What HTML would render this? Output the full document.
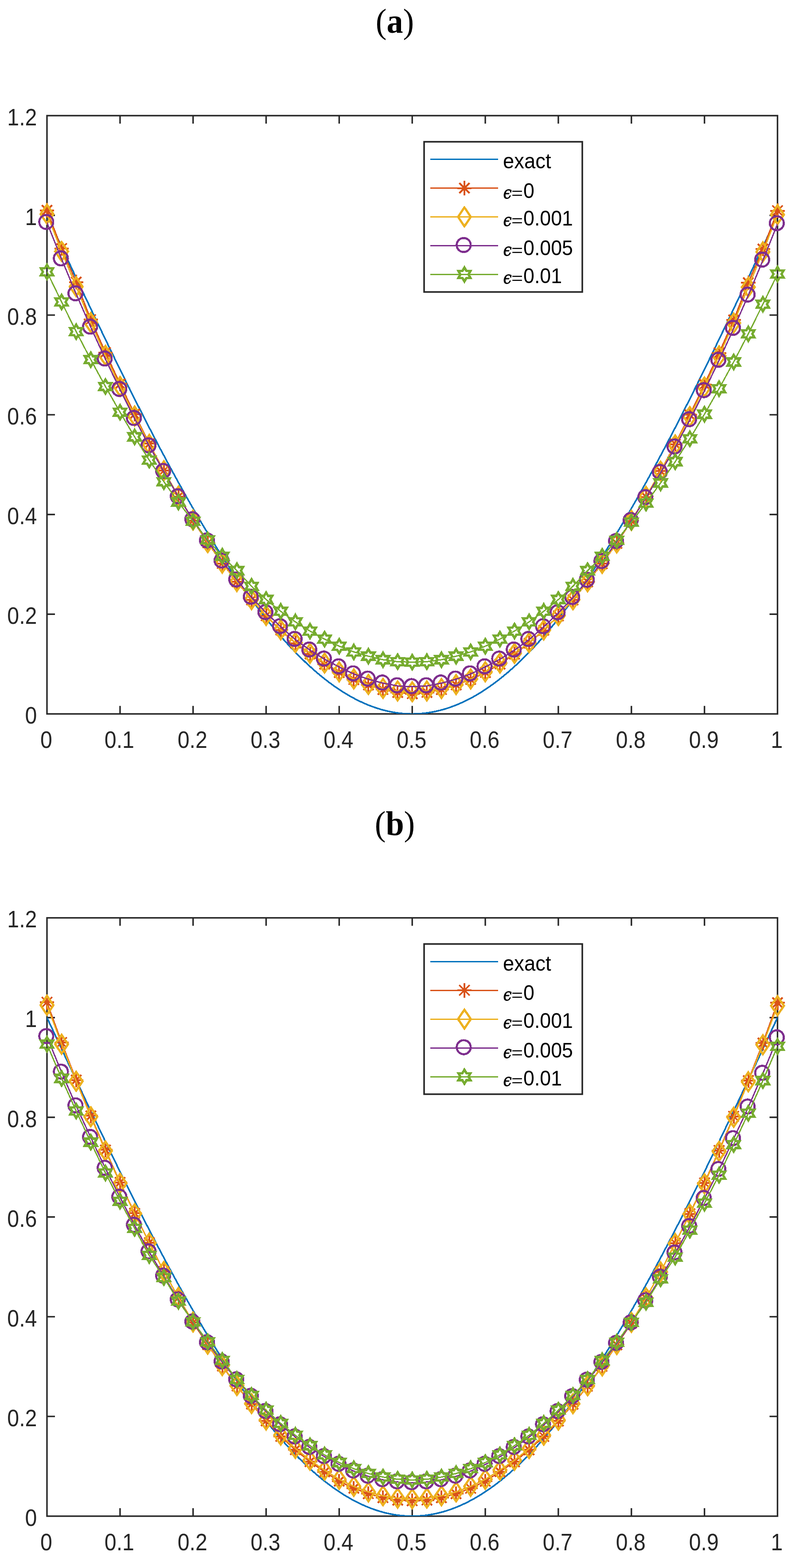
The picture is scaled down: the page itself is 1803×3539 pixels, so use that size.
<!DOCTYPE html>
<html><head><meta charset="utf-8"><title>plot</title>
<style>html,body{margin:0;padding:0;background:#fff;}svg{display:block;}</style>
</head><body>
<svg width="1803" height="3539" viewBox="0 0 1803 3539">
<rect width="1803" height="3539" fill="#fff"/>
<defs><g id="mA" fill="none" stroke="#D95319" stroke-width="4"><path d="M0 -16.4 V16.4 M-16.4 0 H16.4 M-11.6 -11.6 L11.6 11.6 M-11.6 11.6 L11.6 -11.6"/></g>
<g id="mD"><path d="M0 -21.2 L14.5 0 L0 21.2 L-14.5 0Z" fill="none" stroke="#EDB120" stroke-width="5" stroke-linejoin="miter" stroke-miterlimit="10"/></g>
<g id="mC"><circle cx="-1.6" cy="-1.5" r="15.8" fill="none" stroke="#7E2F8E" stroke-width="4.7"/></g>
<g id="mH"><path d="M0 -15.8 L4.6 -7.9 L13.7 -7.9 L9.1 0 L13.7 7.9 L4.6 7.9 L0 15.8 L-4.6 7.9 L-13.7 7.9 L-9.1 0 L-13.7 -7.9 L-4.6 -7.9Z" fill="none" stroke="#77AC30" stroke-width="5.4" stroke-linejoin="miter" stroke-miterlimit="10"/></g></defs>
<clipPath id="clip261"><rect x="106" y="261" width="1648.5" height="1350.3"/></clipPath>
<rect x="106" y="261" width="1648.5" height="1350.3" fill="none" stroke="#262626" stroke-width="3.4"/>
<path d="M270.9 1611.3 V1593.3 M270.9 261 V279 M435.7 1611.3 V1593.3 M435.7 261 V279 M600.5 1611.3 V1593.3 M600.5 261 V279 M765.4 1611.3 V1593.3 M765.4 261 V279 M930.2 1611.3 V1593.3 M930.2 261 V279 M1095.1 1611.3 V1593.3 M1095.1 261 V279 M1259.9 1611.3 V1593.3 M1259.9 261 V279 M1424.8 1611.3 V1593.3 M1424.8 261 V279 M1589.7 1611.3 V1593.3 M1589.7 261 V279 M106 1386.2 H124 M1754.5 1386.2 H1736.5 M106 1161.2 H124 M1754.5 1161.2 H1736.5 M106 936.1 H124 M1754.5 936.1 H1736.5 M106 711.1 H124 M1754.5 711.1 H1736.5 M106 486 H124 M1754.5 486 H1736.5" stroke="#262626" stroke-width="3.4" fill="none"/>
<g shape-rendering="crispEdges">
<g clip-path="url(#clip261)" fill="none" stroke-width="3.6" stroke-linejoin="round">
<path d="M106 486 L110.1 494.9 L114.2 503.7 L118.4 512.6 L122.5 521.4 L126.6 530.2 L130.7 539.1 L134.8 547.9 L139 556.7 L143.1 565.5 L147.2 574.3 L151.3 583.1 L155.5 591.9 L159.6 600.7 L163.7 609.5 L167.8 618.3 L171.9 627.1 L176.1 635.8 L180.2 644.6 L184.3 653.3 L188.4 662.1 L192.5 670.8 L196.7 679.5 L200.8 688.2 L204.9 696.9 L209 705.6 L213.2 714.2 L217.3 722.9 L221.4 731.5 L225.5 740.1 L229.6 748.7 L233.8 757.3 L237.9 765.9 L242 774.4 L246.1 783 L250.2 791.5 L254.4 800 L258.5 808.5 L262.6 816.9 L266.7 825.4 L270.9 833.8 L275 842.2 L279.1 850.5 L283.2 858.9 L287.3 867.2 L291.5 875.5 L295.6 883.8 L299.7 892.1 L303.8 900.3 L307.9 908.5 L312.1 916.7 L316.2 924.8 L320.3 932.9 L324.4 941 L328.5 949.1 L332.7 957.1 L336.8 965.2 L340.9 973.1 L345 981.1 L349.2 989 L353.3 996.9 L357.4 1004.8 L361.5 1012.6 L365.6 1020.4 L369.8 1028.1 L373.9 1035.9 L378 1043.6 L382.1 1051.2 L386.2 1058.8 L390.4 1066.4 L394.5 1074 L398.6 1081.5 L402.7 1089 L406.9 1096.4 L411 1103.8 L415.1 1111.2 L419.2 1118.5 L423.3 1125.8 L427.5 1133.1 L431.6 1140.3 L435.7 1147.5 L439.8 1154.6 L443.9 1161.7 L448.1 1168.7 L452.2 1175.7 L456.3 1182.7 L460.4 1189.6 L464.5 1196.5 L468.7 1203.3 L472.8 1210.1 L476.9 1216.8 L481 1223.5 L485.2 1230.2 L489.3 1236.8 L493.4 1243.4 L497.5 1249.9 L501.6 1256.3 L505.8 1262.8 L509.9 1269.1 L514 1275.4 L518.1 1281.7 L522.2 1287.9 L526.4 1294.1 L530.5 1300.2 L534.6 1306.3 L538.7 1312.3 L542.9 1318.3 L547 1324.2 L551.1 1330.1 L555.2 1335.9 L559.3 1341.7 L563.5 1347.4 L567.6 1353.1 L571.7 1358.7 L575.8 1364.2 L579.9 1369.7 L584.1 1375.2 L588.2 1380.6 L592.3 1385.9 L596.4 1391.2 L600.5 1396.4 L604.7 1401.6 L608.8 1406.7 L612.9 1411.7 L617 1416.7 L621.2 1421.7 L625.3 1426.5 L629.4 1431.4 L633.5 1436.1 L637.6 1440.8 L641.8 1445.5 L645.9 1450.1 L650 1454.6 L654.1 1459.1 L658.2 1463.5 L662.4 1467.8 L666.5 1472.1 L670.6 1476.3 L674.7 1480.5 L678.9 1484.6 L683 1488.7 L687.1 1492.6 L691.2 1496.6 L695.3 1500.4 L699.5 1504.2 L703.6 1507.9 L707.7 1511.6 L711.8 1515.2 L715.9 1518.8 L720.1 1522.2 L724.2 1525.6 L728.3 1529 L732.4 1532.3 L736.6 1535.5 L740.7 1538.7 L744.8 1541.7 L748.9 1544.8 L753 1547.7 L757.2 1550.6 L761.3 1553.5 L765.4 1556.2 L769.5 1558.9 L773.6 1561.6 L777.8 1564.1 L781.9 1566.6 L786 1569.1 L790.1 1571.4 L794.2 1573.7 L798.4 1575.9 L802.5 1578.1 L806.6 1580.2 L810.7 1582.2 L814.9 1584.2 L819 1586.1 L823.1 1587.9 L827.2 1589.7 L831.3 1591.4 L835.5 1593 L839.6 1594.5 L843.7 1596 L847.8 1597.4 L851.9 1598.8 L856.1 1600.1 L860.2 1601.3 L864.3 1602.4 L868.4 1603.5 L872.6 1604.5 L876.7 1605.4 L880.8 1606.3 L884.9 1607.1 L889 1607.8 L893.2 1608.5 L897.3 1609.1 L901.4 1609.6 L905.5 1610.1 L909.6 1610.4 L913.8 1610.7 L917.9 1611 L922 1611.2 L926.1 1611.3 L930.2 1611.3 L934.4 1611.3 L938.5 1611.2 L942.6 1611 L946.7 1610.7 L950.9 1610.4 L955 1610.1 L959.1 1609.6 L963.2 1609.1 L967.3 1608.5 L971.5 1607.8 L975.6 1607.1 L979.7 1606.3 L983.8 1605.4 L987.9 1604.5 L992.1 1603.5 L996.2 1602.4 L1000.3 1601.3 L1004.4 1600.1 L1008.6 1598.8 L1012.7 1597.4 L1016.8 1596 L1020.9 1594.5 L1025 1593 L1029.2 1591.4 L1033.3 1589.7 L1037.4 1587.9 L1041.5 1586.1 L1045.6 1584.2 L1049.8 1582.2 L1053.9 1580.2 L1058 1578.1 L1062.1 1575.9 L1066.3 1573.7 L1070.4 1571.4 L1074.5 1569.1 L1078.6 1566.6 L1082.7 1564.1 L1086.9 1561.6 L1091 1558.9 L1095.1 1556.2 L1099.2 1553.5 L1103.3 1550.6 L1107.5 1547.7 L1111.6 1544.8 L1115.7 1541.7 L1119.8 1538.7 L1123.9 1535.5 L1128.1 1532.3 L1132.2 1529 L1136.3 1525.6 L1140.4 1522.2 L1144.6 1518.8 L1148.7 1515.2 L1152.8 1511.6 L1156.9 1507.9 L1161 1504.2 L1165.2 1500.4 L1169.3 1496.6 L1173.4 1492.6 L1177.5 1488.7 L1181.6 1484.6 L1185.8 1480.5 L1189.9 1476.3 L1194 1472.1 L1198.1 1467.8 L1202.3 1463.5 L1206.4 1459.1 L1210.5 1454.6 L1214.6 1450.1 L1218.7 1445.5 L1222.9 1440.8 L1227 1436.1 L1231.1 1431.4 L1235.2 1426.5 L1239.3 1421.7 L1243.5 1416.7 L1247.6 1411.7 L1251.7 1406.7 L1255.8 1401.6 L1260 1396.4 L1264.1 1391.2 L1268.2 1385.9 L1272.3 1380.6 L1276.4 1375.2 L1280.6 1369.7 L1284.7 1364.2 L1288.8 1358.7 L1292.9 1353.1 L1297 1347.4 L1301.2 1341.7 L1305.3 1335.9 L1309.4 1330.1 L1313.5 1324.2 L1317.6 1318.3 L1321.8 1312.3 L1325.9 1306.3 L1330 1300.2 L1334.1 1294.1 L1338.3 1287.9 L1342.4 1281.7 L1346.5 1275.4 L1350.6 1269.1 L1354.7 1262.8 L1358.9 1256.3 L1363 1249.9 L1367.1 1243.4 L1371.2 1236.8 L1375.3 1230.2 L1379.5 1223.5 L1383.6 1216.8 L1387.7 1210.1 L1391.8 1203.3 L1396 1196.5 L1400.1 1189.6 L1404.2 1182.7 L1408.3 1175.7 L1412.4 1168.7 L1416.6 1161.7 L1420.7 1154.6 L1424.8 1147.5 L1428.9 1140.3 L1433 1133.1 L1437.2 1125.8 L1441.3 1118.5 L1445.4 1111.2 L1449.5 1103.8 L1453.6 1096.4 L1457.8 1089 L1461.9 1081.5 L1466 1074 L1470.1 1066.4 L1474.3 1058.8 L1478.4 1051.2 L1482.5 1043.6 L1486.6 1035.9 L1490.7 1028.1 L1494.9 1020.4 L1499 1012.6 L1503.1 1004.8 L1507.2 996.9 L1511.3 989 L1515.5 981.1 L1519.6 973.1 L1523.7 965.2 L1527.8 957.1 L1532 949.1 L1536.1 941 L1540.2 932.9 L1544.3 924.8 L1548.4 916.7 L1552.6 908.5 L1556.7 900.3 L1560.8 892.1 L1564.9 883.8 L1569 875.5 L1573.2 867.2 L1577.3 858.9 L1581.4 850.5 L1585.5 842.2 L1589.7 833.8 L1593.8 825.4 L1597.9 816.9 L1602 808.5 L1606.1 800 L1610.3 791.5 L1614.4 783 L1618.5 774.4 L1622.6 765.9 L1626.7 757.3 L1630.9 748.7 L1635 740.1 L1639.1 731.5 L1643.2 722.9 L1647.3 714.2 L1651.5 705.6 L1655.6 696.9 L1659.7 688.2 L1663.8 679.5 L1668 670.8 L1672.1 662.1 L1676.2 653.3 L1680.3 644.6 L1684.4 635.8 L1688.6 627.1 L1692.7 618.3 L1696.8 609.5 L1700.9 600.7 L1705 591.9 L1709.2 583.1 L1713.3 574.3 L1717.4 565.5 L1721.5 556.7 L1725.7 547.9 L1729.8 539.1 L1733.9 530.2 L1738 521.4 L1742.1 512.6 L1746.3 503.7 L1750.4 494.9 L1754.5 486.1" stroke="#0072BD"/>
</g>
<path clip-path="url(#clip261)" d="M106 474.5 L139 561 L171.9 636.8 L204.9 721.2 L237.9 795.5 L270.9 866.4 L303.8 935 L336.8 1001.4 L369.8 1062.2 L402.7 1120.7 L435.7 1174.7 L468.7 1225.3 L501.6 1271.5 L534.6 1313.1 L567.6 1353.6 L600.5 1389.6 L633.5 1422.3 L666.5 1451.5 L699.5 1476.3 L732.4 1498.8 L765.4 1517.9 L798.4 1533.7 L831.3 1546 L864.3 1556.2 L897.3 1562.9 L930.2 1565.7 L963.2 1562.9 L996.2 1556.2 L1029.2 1546 L1062.1 1533.7 L1095.1 1517.9 L1128.1 1498.8 L1161 1476.3 L1194 1451.6 L1227 1422.5 L1260 1389.9 L1292.9 1354 L1325.9 1313.6 L1358.9 1272.1 L1391.8 1226.1 L1424.8 1175.5 L1457.8 1121.6 L1490.7 1063.2 L1523.7 1002.5 L1556.7 936.1 L1589.7 867.5 L1622.6 796.6 L1655.6 722.4 L1688.6 638 L1721.5 562.1 L1754.5 475.6" fill="none" stroke-width="3.0" stroke="#D95319"/>
<use href="#mA" x="106" y="474.5"/>
<use href="#mA" x="139" y="561"/>
<use href="#mA" x="171.9" y="636.8"/>
<use href="#mA" x="204.9" y="721.2"/>
<use href="#mA" x="237.9" y="795.5"/>
<use href="#mA" x="270.9" y="866.4"/>
<use href="#mA" x="303.8" y="935"/>
<use href="#mA" x="336.8" y="1001.4"/>
<use href="#mA" x="369.8" y="1062.2"/>
<use href="#mA" x="402.7" y="1120.7"/>
<use href="#mA" x="435.7" y="1174.7"/>
<use href="#mA" x="468.7" y="1225.3"/>
<use href="#mA" x="501.6" y="1271.5"/>
<use href="#mA" x="534.6" y="1313.1"/>
<use href="#mA" x="567.6" y="1353.6"/>
<use href="#mA" x="600.5" y="1389.6"/>
<use href="#mA" x="633.5" y="1422.3"/>
<use href="#mA" x="666.5" y="1451.5"/>
<use href="#mA" x="699.5" y="1476.3"/>
<use href="#mA" x="732.4" y="1498.8"/>
<use href="#mA" x="765.4" y="1517.9"/>
<use href="#mA" x="798.4" y="1533.7"/>
<use href="#mA" x="831.3" y="1546"/>
<use href="#mA" x="864.3" y="1556.2"/>
<use href="#mA" x="897.3" y="1562.9"/>
<use href="#mA" x="930.2" y="1565.7"/>
<use href="#mA" x="963.2" y="1562.9"/>
<use href="#mA" x="996.2" y="1556.2"/>
<use href="#mA" x="1029.2" y="1546"/>
<use href="#mA" x="1062.1" y="1533.7"/>
<use href="#mA" x="1095.1" y="1517.9"/>
<use href="#mA" x="1128.1" y="1498.8"/>
<use href="#mA" x="1161" y="1476.3"/>
<use href="#mA" x="1194" y="1451.6"/>
<use href="#mA" x="1227" y="1422.5"/>
<use href="#mA" x="1260" y="1389.9"/>
<use href="#mA" x="1292.9" y="1354"/>
<use href="#mA" x="1325.9" y="1313.6"/>
<use href="#mA" x="1358.9" y="1272.1"/>
<use href="#mA" x="1391.8" y="1226.1"/>
<use href="#mA" x="1424.8" y="1175.5"/>
<use href="#mA" x="1457.8" y="1121.6"/>
<use href="#mA" x="1490.7" y="1063.2"/>
<use href="#mA" x="1523.7" y="1002.5"/>
<use href="#mA" x="1556.7" y="936.1"/>
<use href="#mA" x="1589.7" y="867.5"/>
<use href="#mA" x="1622.6" y="796.6"/>
<use href="#mA" x="1655.6" y="722.4"/>
<use href="#mA" x="1688.6" y="638"/>
<use href="#mA" x="1721.5" y="562.1"/>
<use href="#mA" x="1754.5" y="475.6"/>
<path clip-path="url(#clip261)" d="M106 483.3 L139 567.5 L171.9 647 L204.9 728 L237.9 802.2 L270.9 872.3 L303.8 939 L336.8 1003 L369.8 1062.5 L402.7 1119.7 L435.7 1173.8 L468.7 1224.6 L501.6 1271 L534.6 1312.5 L567.6 1353.3 L600.5 1389.1 L633.5 1421.6 L666.5 1450.3 L699.5 1474.6 L732.4 1496.5 L765.4 1516.2 L798.4 1532.5 L831.3 1544.9 L864.3 1553.9 L897.3 1559.5 L930.2 1561.3 L963.2 1559.5 L996.2 1553.9 L1029.2 1544.9 L1062.1 1532.5 L1095.1 1516.2 L1128.1 1496.5 L1161 1474.6 L1194 1450.4 L1227 1421.8 L1260 1389.4 L1292.9 1353.7 L1325.9 1313.1 L1358.9 1271.6 L1391.8 1225.3 L1424.8 1174.6 L1457.8 1120.6 L1490.7 1063.5 L1523.7 1004.1 L1556.7 940.1 L1589.7 873.5 L1622.6 803.4 L1655.6 729.1 L1688.6 648.1 L1721.5 568.6 L1754.5 484.5" fill="none" stroke-width="3.0" stroke="#EDB120"/>
<use href="#mD" x="106" y="483.3"/>
<use href="#mD" x="139" y="567.5"/>
<use href="#mD" x="171.9" y="647"/>
<use href="#mD" x="204.9" y="728"/>
<use href="#mD" x="237.9" y="802.2"/>
<use href="#mD" x="270.9" y="872.3"/>
<use href="#mD" x="303.8" y="939"/>
<use href="#mD" x="336.8" y="1003"/>
<use href="#mD" x="369.8" y="1062.5"/>
<use href="#mD" x="402.7" y="1119.7"/>
<use href="#mD" x="435.7" y="1173.8"/>
<use href="#mD" x="468.7" y="1224.6"/>
<use href="#mD" x="501.6" y="1271"/>
<use href="#mD" x="534.6" y="1312.5"/>
<use href="#mD" x="567.6" y="1353.3"/>
<use href="#mD" x="600.5" y="1389.1"/>
<use href="#mD" x="633.5" y="1421.6"/>
<use href="#mD" x="666.5" y="1450.3"/>
<use href="#mD" x="699.5" y="1474.6"/>
<use href="#mD" x="732.4" y="1496.5"/>
<use href="#mD" x="765.4" y="1516.2"/>
<use href="#mD" x="798.4" y="1532.5"/>
<use href="#mD" x="831.3" y="1544.9"/>
<use href="#mD" x="864.3" y="1553.9"/>
<use href="#mD" x="897.3" y="1559.5"/>
<use href="#mD" x="930.2" y="1561.3"/>
<use href="#mD" x="963.2" y="1559.5"/>
<use href="#mD" x="996.2" y="1553.9"/>
<use href="#mD" x="1029.2" y="1544.9"/>
<use href="#mD" x="1062.1" y="1532.5"/>
<use href="#mD" x="1095.1" y="1516.2"/>
<use href="#mD" x="1128.1" y="1496.5"/>
<use href="#mD" x="1161" y="1474.6"/>
<use href="#mD" x="1194" y="1450.4"/>
<use href="#mD" x="1227" y="1421.8"/>
<use href="#mD" x="1260" y="1389.4"/>
<use href="#mD" x="1292.9" y="1353.7"/>
<use href="#mD" x="1325.9" y="1313.1"/>
<use href="#mD" x="1358.9" y="1271.6"/>
<use href="#mD" x="1391.8" y="1225.3"/>
<use href="#mD" x="1424.8" y="1174.6"/>
<use href="#mD" x="1457.8" y="1120.6"/>
<use href="#mD" x="1490.7" y="1063.5"/>
<use href="#mD" x="1523.7" y="1004.1"/>
<use href="#mD" x="1556.7" y="940.1"/>
<use href="#mD" x="1589.7" y="873.5"/>
<use href="#mD" x="1622.6" y="803.4"/>
<use href="#mD" x="1655.6" y="729.1"/>
<use href="#mD" x="1688.6" y="648.1"/>
<use href="#mD" x="1721.5" y="568.6"/>
<use href="#mD" x="1754.5" y="484.5"/>
<path clip-path="url(#clip261)" d="M106 502.5 L139 584.7 L171.9 663.6 L204.9 738.7 L237.9 810.7 L270.9 879.3 L303.8 944.9 L336.8 1006.7 L369.8 1064.4 L402.7 1121.5 L435.7 1173.4 L468.7 1221.1 L501.6 1266.6 L534.6 1309.2 L567.6 1348.4 L600.5 1383 L633.5 1414.7 L666.5 1443.6 L699.5 1467.4 L732.4 1487.9 L765.4 1505.4 L798.4 1521.2 L831.3 1533.1 L864.3 1541.9 L897.3 1548.1 L930.2 1550 L963.2 1548.1 L996.2 1541.9 L1029.2 1533.1 L1062.1 1521.2 L1095.1 1505.4 L1128.1 1487.9 L1161 1467.4 L1194 1443.7 L1227 1414.8 L1260 1383.3 L1292.9 1349 L1325.9 1310 L1358.9 1267.8 L1391.8 1222.6 L1424.8 1175.2 L1457.8 1123.6 L1490.7 1066.8 L1523.7 1009.3 L1556.7 947.7 L1589.7 882.1 L1622.6 813.5 L1655.6 741.5 L1688.6 666.4 L1721.5 587.5 L1754.5 505.3" fill="none" stroke-width="3.0" stroke="#7E2F8E"/>
<use href="#mC" x="106" y="502.5"/>
<use href="#mC" x="139" y="584.7"/>
<use href="#mC" x="171.9" y="663.6"/>
<use href="#mC" x="204.9" y="738.7"/>
<use href="#mC" x="237.9" y="810.7"/>
<use href="#mC" x="270.9" y="879.3"/>
<use href="#mC" x="303.8" y="944.9"/>
<use href="#mC" x="336.8" y="1006.7"/>
<use href="#mC" x="369.8" y="1064.4"/>
<use href="#mC" x="402.7" y="1121.5"/>
<use href="#mC" x="435.7" y="1173.4"/>
<use href="#mC" x="468.7" y="1221.1"/>
<use href="#mC" x="501.6" y="1266.6"/>
<use href="#mC" x="534.6" y="1309.2"/>
<use href="#mC" x="567.6" y="1348.4"/>
<use href="#mC" x="600.5" y="1383"/>
<use href="#mC" x="633.5" y="1414.7"/>
<use href="#mC" x="666.5" y="1443.6"/>
<use href="#mC" x="699.5" y="1467.4"/>
<use href="#mC" x="732.4" y="1487.9"/>
<use href="#mC" x="765.4" y="1505.4"/>
<use href="#mC" x="798.4" y="1521.2"/>
<use href="#mC" x="831.3" y="1533.1"/>
<use href="#mC" x="864.3" y="1541.9"/>
<use href="#mC" x="897.3" y="1548.1"/>
<use href="#mC" x="930.2" y="1550"/>
<use href="#mC" x="963.2" y="1548.1"/>
<use href="#mC" x="996.2" y="1541.9"/>
<use href="#mC" x="1029.2" y="1533.1"/>
<use href="#mC" x="1062.1" y="1521.2"/>
<use href="#mC" x="1095.1" y="1505.4"/>
<use href="#mC" x="1128.1" y="1487.9"/>
<use href="#mC" x="1161" y="1467.4"/>
<use href="#mC" x="1194" y="1443.7"/>
<use href="#mC" x="1227" y="1414.8"/>
<use href="#mC" x="1260" y="1383.3"/>
<use href="#mC" x="1292.9" y="1349"/>
<use href="#mC" x="1325.9" y="1310"/>
<use href="#mC" x="1358.9" y="1267.8"/>
<use href="#mC" x="1391.8" y="1222.6"/>
<use href="#mC" x="1424.8" y="1175.2"/>
<use href="#mC" x="1457.8" y="1123.6"/>
<use href="#mC" x="1490.7" y="1066.8"/>
<use href="#mC" x="1523.7" y="1009.3"/>
<use href="#mC" x="1556.7" y="947.7"/>
<use href="#mC" x="1589.7" y="882.1"/>
<use href="#mC" x="1622.6" y="813.5"/>
<use href="#mC" x="1655.6" y="741.5"/>
<use href="#mC" x="1688.6" y="666.4"/>
<use href="#mC" x="1721.5" y="587.5"/>
<use href="#mC" x="1754.5" y="505.3"/>
<path clip-path="url(#clip261)" d="M106 613.4 L139 681.6 L171.9 748.5 L204.9 811.8 L237.9 872.3 L270.9 930.3 L303.8 986.1 L336.8 1038.5 L369.8 1087.2 L402.7 1133.1 L435.7 1176.7 L468.7 1218.6 L501.6 1255.3 L534.6 1287.9 L567.6 1323.2 L600.5 1353.1 L633.5 1379.8 L666.5 1403.6 L699.5 1424.3 L732.4 1442.5 L765.4 1458.5 L798.4 1471.4 L831.3 1481.1 L864.3 1489 L897.3 1493.4 L930.2 1494.5 L963.2 1493.4 L996.2 1489 L1029.2 1481.1 L1062.1 1471.4 L1095.1 1458.5 L1128.1 1442.5 L1161 1424.3 L1194 1403.6 L1227 1379.8 L1260 1353.1 L1292.9 1323.2 L1325.9 1288 L1358.9 1255.7 L1391.8 1219.5 L1424.8 1178.3 L1457.8 1135.3 L1490.7 1090 L1523.7 1042.1 L1556.7 990.3 L1589.7 934.9 L1622.6 877.3 L1655.6 816.9 L1688.6 753.5 L1721.5 686.7 L1754.5 618.5" fill="none" stroke-width="3.0" stroke="#77AC30"/>
<use href="#mH" x="106" y="613.4"/>
<use href="#mH" x="139" y="681.6"/>
<use href="#mH" x="171.9" y="748.5"/>
<use href="#mH" x="204.9" y="811.8"/>
<use href="#mH" x="237.9" y="872.3"/>
<use href="#mH" x="270.9" y="930.3"/>
<use href="#mH" x="303.8" y="986.1"/>
<use href="#mH" x="336.8" y="1038.5"/>
<use href="#mH" x="369.8" y="1087.2"/>
<use href="#mH" x="402.7" y="1133.1"/>
<use href="#mH" x="435.7" y="1176.7"/>
<use href="#mH" x="468.7" y="1218.6"/>
<use href="#mH" x="501.6" y="1255.3"/>
<use href="#mH" x="534.6" y="1287.9"/>
<use href="#mH" x="567.6" y="1323.2"/>
<use href="#mH" x="600.5" y="1353.1"/>
<use href="#mH" x="633.5" y="1379.8"/>
<use href="#mH" x="666.5" y="1403.6"/>
<use href="#mH" x="699.5" y="1424.3"/>
<use href="#mH" x="732.4" y="1442.5"/>
<use href="#mH" x="765.4" y="1458.5"/>
<use href="#mH" x="798.4" y="1471.4"/>
<use href="#mH" x="831.3" y="1481.1"/>
<use href="#mH" x="864.3" y="1489"/>
<use href="#mH" x="897.3" y="1493.4"/>
<use href="#mH" x="930.2" y="1494.5"/>
<use href="#mH" x="963.2" y="1493.4"/>
<use href="#mH" x="996.2" y="1489"/>
<use href="#mH" x="1029.2" y="1481.1"/>
<use href="#mH" x="1062.1" y="1471.4"/>
<use href="#mH" x="1095.1" y="1458.5"/>
<use href="#mH" x="1128.1" y="1442.5"/>
<use href="#mH" x="1161" y="1424.3"/>
<use href="#mH" x="1194" y="1403.6"/>
<use href="#mH" x="1227" y="1379.8"/>
<use href="#mH" x="1260" y="1353.1"/>
<use href="#mH" x="1292.9" y="1323.2"/>
<use href="#mH" x="1325.9" y="1288"/>
<use href="#mH" x="1358.9" y="1255.7"/>
<use href="#mH" x="1391.8" y="1219.5"/>
<use href="#mH" x="1424.8" y="1178.3"/>
<use href="#mH" x="1457.8" y="1135.3"/>
<use href="#mH" x="1490.7" y="1090"/>
<use href="#mH" x="1523.7" y="1042.1"/>
<use href="#mH" x="1556.7" y="990.3"/>
<use href="#mH" x="1589.7" y="934.9"/>
<use href="#mH" x="1622.6" y="877.3"/>
<use href="#mH" x="1655.6" y="816.9"/>
<use href="#mH" x="1688.6" y="753.5"/>
<use href="#mH" x="1721.5" y="686.7"/>
<use href="#mH" x="1754.5" y="618.5"/>
</g>
<g font-family="Liberation Sans, Arial, Helvetica, sans-serif" font-size="53.6" fill="#262626"><text transform="translate(104.5 1687.9) scale(0.9 1)" text-anchor="middle">0</text><text transform="translate(269.4 1687.9) scale(0.9 1)" text-anchor="middle">0.1</text><text transform="translate(434.2 1687.9) scale(0.9 1)" text-anchor="middle">0.2</text><text transform="translate(599 1687.9) scale(0.9 1)" text-anchor="middle">0.3</text><text transform="translate(763.9 1687.9) scale(0.9 1)" text-anchor="middle">0.4</text><text transform="translate(928.8 1687.9) scale(0.9 1)" text-anchor="middle">0.5</text><text transform="translate(1093.6 1687.9) scale(0.9 1)" text-anchor="middle">0.6</text><text transform="translate(1258.4 1687.9) scale(0.9 1)" text-anchor="middle">0.7</text><text transform="translate(1423.3 1687.9) scale(0.9 1)" text-anchor="middle">0.8</text><text transform="translate(1588.2 1687.9) scale(0.9 1)" text-anchor="middle">0.9</text><text transform="translate(1753 1687.9) scale(0.9 1)" text-anchor="middle">1</text><text transform="translate(83.4 1633) scale(0.9 1)" text-anchor="end">0</text><text transform="translate(83.4 1408) scale(0.9 1)" text-anchor="end">0.2</text><text transform="translate(83.4 1182.9) scale(0.9 1)" text-anchor="end">0.4</text><text transform="translate(83.4 957.9) scale(0.9 1)" text-anchor="end">0.6</text><text transform="translate(83.4 732.8) scale(0.9 1)" text-anchor="end">0.8</text><text transform="translate(83.4 507.8) scale(0.9 1)" text-anchor="end">1</text><text transform="translate(83.4 282.7) scale(0.9 1)" text-anchor="end">1.2</text></g>
<text transform="translate(891 74.3) scale(0.95 1)" text-anchor="middle" font-family="Liberation Serif, Times New Roman, serif" font-size="78" fill="#000">(<tspan font-weight="bold">a</tspan>)</text>
<g font-family="Liberation Sans, Arial, sans-serif" font-size="47.8" fill="#000"><rect x="957" y="320" width="357" height="339" fill="#fff" stroke="#262626" stroke-width="3.6"/><g shape-rendering="crispEdges"><path d="M971 359.5 H1124" stroke="#0072BD" stroke-width="3"/></g><g shape-rendering="crispEdges"><path d="M971 424.5 H1124" stroke="#D95319" stroke-width="3"/><use href="#mA" x="1048" y="424.5"/></g><g shape-rendering="crispEdges"><path d="M971 489.5 H1124" stroke="#EDB120" stroke-width="3"/><use href="#mD" x="1048" y="489.5"/></g><g shape-rendering="crispEdges"><path d="M971 554.5 H1124" stroke="#7E2F8E" stroke-width="3"/><use href="#mC" x="1048" y="554.5"/></g><g shape-rendering="crispEdges"><path d="M971 619.5 H1124" stroke="#77AC30" stroke-width="3"/><use href="#mH" x="1048" y="619.5"/></g><text transform="translate(1135 380.3) scale(0.95 1)">exact</text><text transform="translate(1135.6 447.5) scale(0.86 1)" font-family="DejaVu Serif, serif" font-style="italic" font-size="40" stroke="#000" stroke-width="0.9">ϵ</text><text transform="translate(1154 447.5) scale(0.935 0.75)">=</text><text transform="translate(1181.1 446.5) scale(0.935 1)">0</text><text transform="translate(1135.6 510) scale(0.86 1)" font-family="DejaVu Serif, serif" font-style="italic" font-size="40" stroke="#000" stroke-width="0.9">ϵ</text><text transform="translate(1154 510) scale(0.935 0.75)">=</text><text transform="translate(1181.1 509) scale(0.935 1)">0.001</text><text transform="translate(1135.6 577.3) scale(0.86 1)" font-family="DejaVu Serif, serif" font-style="italic" font-size="40" stroke="#000" stroke-width="0.9">ϵ</text><text transform="translate(1154 577.3) scale(0.935 0.75)">=</text><text transform="translate(1181.1 576.3) scale(0.935 1)">0.005</text><text transform="translate(1135.6 640.2) scale(0.86 1)" font-family="DejaVu Serif, serif" font-style="italic" font-size="40" stroke="#000" stroke-width="0.9">ϵ</text><text transform="translate(1154 640.2) scale(0.935 0.75)">=</text><text transform="translate(1181.1 639.2) scale(0.935 1)">0.01</text></g>
<clipPath id="clip2071"><rect x="106" y="2071.6" width="1648.5" height="1350.4"/></clipPath>
<rect x="106" y="2071.6" width="1648.5" height="1350.4" fill="none" stroke="#262626" stroke-width="3.4"/>
<path d="M270.9 3422 V3404 M270.9 2071.6 V2089.6 M435.7 3422 V3404 M435.7 2071.6 V2089.6 M600.5 3422 V3404 M600.5 2071.6 V2089.6 M765.4 3422 V3404 M765.4 2071.6 V2089.6 M930.2 3422 V3404 M930.2 2071.6 V2089.6 M1095.1 3422 V3404 M1095.1 2071.6 V2089.6 M1259.9 3422 V3404 M1259.9 2071.6 V2089.6 M1424.8 3422 V3404 M1424.8 2071.6 V2089.6 M1589.7 3422 V3404 M1589.7 2071.6 V2089.6 M106 3196.9 H124 M1754.5 3196.9 H1736.5 M106 2971.9 H124 M1754.5 2971.9 H1736.5 M106 2746.8 H124 M1754.5 2746.8 H1736.5 M106 2521.7 H124 M1754.5 2521.7 H1736.5 M106 2296.7 H124 M1754.5 2296.7 H1736.5" stroke="#262626" stroke-width="3.4" fill="none"/>
<g shape-rendering="crispEdges">
<g clip-path="url(#clip2071)" fill="none" stroke-width="3.6" stroke-linejoin="round">
<path d="M106 2296.7 L110.1 2305.5 L114.2 2314.3 L118.4 2323.2 L122.5 2332 L126.6 2340.8 L130.7 2349.7 L134.8 2358.5 L139 2367.3 L143.1 2376.1 L147.2 2385 L151.3 2393.8 L155.5 2402.6 L159.6 2411.4 L163.7 2420.2 L167.8 2428.9 L171.9 2437.7 L176.1 2446.5 L180.2 2455.2 L184.3 2464 L188.4 2472.7 L192.5 2481.4 L196.7 2490.1 L200.8 2498.8 L204.9 2507.5 L209 2516.2 L213.2 2524.9 L217.3 2533.5 L221.4 2542.2 L225.5 2550.8 L229.6 2559.4 L233.8 2568 L237.9 2576.5 L242 2585.1 L246.1 2593.6 L250.2 2602.1 L254.4 2610.6 L258.5 2619.1 L262.6 2627.6 L266.7 2636 L270.9 2644.4 L275 2652.8 L279.1 2661.2 L283.2 2669.5 L287.3 2677.9 L291.5 2686.2 L295.6 2694.4 L299.7 2702.7 L303.8 2710.9 L307.9 2719.1 L312.1 2727.3 L316.2 2735.5 L320.3 2743.6 L324.4 2751.7 L328.5 2759.8 L332.7 2767.8 L336.8 2775.8 L340.9 2783.8 L345 2791.7 L349.2 2799.7 L353.3 2807.6 L357.4 2815.4 L361.5 2823.2 L365.6 2831 L369.8 2838.8 L373.9 2846.5 L378 2854.2 L382.1 2861.9 L386.2 2869.5 L390.4 2877.1 L394.5 2884.7 L398.6 2892.2 L402.7 2899.7 L406.9 2907.1 L411 2914.5 L415.1 2921.9 L419.2 2929.2 L423.3 2936.5 L427.5 2943.7 L431.6 2951 L435.7 2958.1 L439.8 2965.3 L443.9 2972.3 L448.1 2979.4 L452.2 2986.4 L456.3 2993.4 L460.4 3000.3 L464.5 3007.1 L468.7 3014 L472.8 3020.8 L476.9 3027.5 L481 3034.2 L485.2 3040.9 L489.3 3047.5 L493.4 3054 L497.5 3060.5 L501.6 3067 L505.8 3073.4 L509.9 3079.8 L514 3086.1 L518.1 3092.4 L522.2 3098.6 L526.4 3104.8 L530.5 3110.9 L534.6 3117 L538.7 3123 L542.9 3129 L547 3134.9 L551.1 3140.8 L555.2 3146.6 L559.3 3152.4 L563.5 3158.1 L567.6 3163.8 L571.7 3169.4 L575.8 3174.9 L579.9 3180.4 L584.1 3185.9 L588.2 3191.2 L592.3 3196.6 L596.4 3201.9 L600.5 3207.1 L604.7 3212.2 L608.8 3217.4 L612.9 3222.4 L617 3227.4 L621.2 3232.3 L625.3 3237.2 L629.4 3242.1 L633.5 3246.8 L637.6 3251.5 L641.8 3256.2 L645.9 3260.8 L650 3265.3 L654.1 3269.8 L658.2 3274.2 L662.4 3278.5 L666.5 3282.8 L670.6 3287 L674.7 3291.2 L678.9 3295.3 L683 3299.3 L687.1 3303.3 L691.2 3307.2 L695.3 3311.1 L699.5 3314.9 L703.6 3318.6 L707.7 3322.3 L711.8 3325.9 L715.9 3329.4 L720.1 3332.9 L724.2 3336.3 L728.3 3339.7 L732.4 3343 L736.6 3346.2 L740.7 3349.4 L744.8 3352.4 L748.9 3355.5 L753 3358.4 L757.2 3361.3 L761.3 3364.2 L765.4 3366.9 L769.5 3369.6 L773.6 3372.3 L777.8 3374.8 L781.9 3377.3 L786 3379.7 L790.1 3382.1 L794.2 3384.4 L798.4 3386.6 L802.5 3388.8 L806.6 3390.9 L810.7 3392.9 L814.9 3394.9 L819 3396.8 L823.1 3398.6 L827.2 3400.4 L831.3 3402.1 L835.5 3403.7 L839.6 3405.2 L843.7 3406.7 L847.8 3408.1 L851.9 3409.5 L856.1 3410.8 L860.2 3412 L864.3 3413.1 L868.4 3414.2 L872.6 3415.2 L876.7 3416.1 L880.8 3417 L884.9 3417.8 L889 3418.5 L893.2 3419.2 L897.3 3419.8 L901.4 3420.3 L905.5 3420.8 L909.6 3421.1 L913.8 3421.4 L917.9 3421.7 L922 3421.9 L926.1 3422 L930.2 3422 L934.4 3422 L938.5 3421.9 L942.6 3421.7 L946.7 3421.4 L950.9 3421.1 L955 3420.8 L959.1 3420.3 L963.2 3419.8 L967.3 3419.2 L971.5 3418.5 L975.6 3417.8 L979.7 3417 L983.8 3416.1 L987.9 3415.2 L992.1 3414.2 L996.2 3413.1 L1000.3 3412 L1004.4 3410.8 L1008.6 3409.5 L1012.7 3408.1 L1016.8 3406.7 L1020.9 3405.2 L1025 3403.7 L1029.2 3402.1 L1033.3 3400.4 L1037.4 3398.6 L1041.5 3396.8 L1045.6 3394.9 L1049.8 3392.9 L1053.9 3390.9 L1058 3388.8 L1062.1 3386.6 L1066.3 3384.4 L1070.4 3382.1 L1074.5 3379.7 L1078.6 3377.3 L1082.7 3374.8 L1086.9 3372.3 L1091 3369.6 L1095.1 3366.9 L1099.2 3364.2 L1103.3 3361.3 L1107.5 3358.4 L1111.6 3355.5 L1115.7 3352.4 L1119.8 3349.4 L1123.9 3346.2 L1128.1 3343 L1132.2 3339.7 L1136.3 3336.3 L1140.4 3332.9 L1144.6 3329.4 L1148.7 3325.9 L1152.8 3322.3 L1156.9 3318.6 L1161 3314.9 L1165.2 3311.1 L1169.3 3307.2 L1173.4 3303.3 L1177.5 3299.3 L1181.6 3295.3 L1185.8 3291.2 L1189.9 3287 L1194 3282.8 L1198.1 3278.5 L1202.3 3274.2 L1206.4 3269.8 L1210.5 3265.3 L1214.6 3260.8 L1218.7 3256.2 L1222.9 3251.5 L1227 3246.8 L1231.1 3242.1 L1235.2 3237.2 L1239.3 3232.3 L1243.5 3227.4 L1247.6 3222.4 L1251.7 3217.4 L1255.8 3212.2 L1260 3207.1 L1264.1 3201.9 L1268.2 3196.6 L1272.3 3191.2 L1276.4 3185.9 L1280.6 3180.4 L1284.7 3174.9 L1288.8 3169.4 L1292.9 3163.8 L1297 3158.1 L1301.2 3152.4 L1305.3 3146.6 L1309.4 3140.8 L1313.5 3134.9 L1317.6 3129 L1321.8 3123 L1325.9 3117 L1330 3110.9 L1334.1 3104.8 L1338.3 3098.6 L1342.4 3092.4 L1346.5 3086.1 L1350.6 3079.8 L1354.7 3073.4 L1358.9 3067 L1363 3060.5 L1367.1 3054 L1371.2 3047.5 L1375.3 3040.9 L1379.5 3034.2 L1383.6 3027.5 L1387.7 3020.8 L1391.8 3014 L1396 3007.1 L1400.1 3000.3 L1404.2 2993.4 L1408.3 2986.4 L1412.4 2979.4 L1416.6 2972.3 L1420.7 2965.3 L1424.8 2958.1 L1428.9 2951 L1433 2943.7 L1437.2 2936.5 L1441.3 2929.2 L1445.4 2921.9 L1449.5 2914.5 L1453.6 2907.1 L1457.8 2899.7 L1461.9 2892.2 L1466 2884.7 L1470.1 2877.1 L1474.3 2869.5 L1478.4 2861.9 L1482.5 2854.2 L1486.6 2846.5 L1490.7 2838.8 L1494.9 2831 L1499 2823.2 L1503.1 2815.4 L1507.2 2807.6 L1511.3 2799.7 L1515.5 2791.7 L1519.6 2783.8 L1523.7 2775.8 L1527.8 2767.8 L1532 2759.8 L1536.1 2751.7 L1540.2 2743.6 L1544.3 2735.5 L1548.4 2727.3 L1552.6 2719.1 L1556.7 2710.9 L1560.8 2702.7 L1564.9 2694.4 L1569 2686.2 L1573.2 2677.9 L1577.3 2669.5 L1581.4 2661.2 L1585.5 2652.8 L1589.7 2644.4 L1593.8 2636 L1597.9 2627.6 L1602 2619.1 L1606.1 2610.6 L1610.3 2602.1 L1614.4 2593.6 L1618.5 2585.1 L1622.6 2576.5 L1626.7 2568 L1630.9 2559.4 L1635 2550.8 L1639.1 2542.2 L1643.2 2533.5 L1647.3 2524.9 L1651.5 2516.2 L1655.6 2507.5 L1659.7 2498.8 L1663.8 2490.1 L1668 2481.4 L1672.1 2472.7 L1676.2 2464 L1680.3 2455.2 L1684.4 2446.5 L1688.6 2437.7 L1692.7 2428.9 L1696.8 2420.2 L1700.9 2411.4 L1705 2402.6 L1709.2 2393.8 L1713.3 2385 L1717.4 2376.1 L1721.5 2367.3 L1725.7 2358.5 L1729.8 2349.7 L1733.9 2340.8 L1738 2332 L1742.1 2323.2 L1746.3 2314.3 L1750.4 2305.5 L1754.5 2296.7" stroke="#0072BD"/>
</g>
<path clip-path="url(#clip2071)" d="M106 2262.1 L139 2352.9 L171.9 2437.7 L204.9 2518.4 L237.9 2595.4 L270.9 2668.6 L303.8 2738.4 L336.8 2804.8 L369.8 2869.5 L402.7 2929.1 L435.7 2985.4 L468.7 3034.9 L501.6 3083.3 L534.6 3128.3 L567.6 3168.8 L600.5 3207.1 L633.5 3241.9 L666.5 3272.3 L699.5 3299.3 L732.4 3321.8 L765.4 3343.2 L798.4 3359 L831.3 3371.4 L864.3 3380.4 L897.3 3386 L930.2 3387.1 L963.2 3386 L996.2 3380.4 L1029.2 3371.4 L1062.1 3359 L1095.1 3343.2 L1128.1 3321.9 L1161 3299.4 L1194 3272.4 L1227 3242.1 L1260 3207.4 L1292.9 3169.2 L1325.9 3128.8 L1358.9 3083.9 L1391.8 3035.6 L1424.8 2986.2 L1457.8 2930 L1490.7 2870.5 L1523.7 2805.8 L1556.7 2739.5 L1589.7 2669.7 L1622.6 2596.6 L1655.6 2519.5 L1688.6 2438.8 L1721.5 2354.1 L1754.5 2263.2" fill="none" stroke-width="3.0" stroke="#D95319"/>
<use href="#mA" x="106" y="2262.1"/>
<use href="#mA" x="139" y="2352.9"/>
<use href="#mA" x="171.9" y="2437.7"/>
<use href="#mA" x="204.9" y="2518.4"/>
<use href="#mA" x="237.9" y="2595.4"/>
<use href="#mA" x="270.9" y="2668.6"/>
<use href="#mA" x="303.8" y="2738.4"/>
<use href="#mA" x="336.8" y="2804.8"/>
<use href="#mA" x="369.8" y="2869.5"/>
<use href="#mA" x="402.7" y="2929.1"/>
<use href="#mA" x="435.7" y="2985.4"/>
<use href="#mA" x="468.7" y="3034.9"/>
<use href="#mA" x="501.6" y="3083.3"/>
<use href="#mA" x="534.6" y="3128.3"/>
<use href="#mA" x="567.6" y="3168.8"/>
<use href="#mA" x="600.5" y="3207.1"/>
<use href="#mA" x="633.5" y="3241.9"/>
<use href="#mA" x="666.5" y="3272.3"/>
<use href="#mA" x="699.5" y="3299.3"/>
<use href="#mA" x="732.4" y="3321.8"/>
<use href="#mA" x="765.4" y="3343.2"/>
<use href="#mA" x="798.4" y="3359"/>
<use href="#mA" x="831.3" y="3371.4"/>
<use href="#mA" x="864.3" y="3380.4"/>
<use href="#mA" x="897.3" y="3386"/>
<use href="#mA" x="930.2" y="3387.1"/>
<use href="#mA" x="963.2" y="3386"/>
<use href="#mA" x="996.2" y="3380.4"/>
<use href="#mA" x="1029.2" y="3371.4"/>
<use href="#mA" x="1062.1" y="3359"/>
<use href="#mA" x="1095.1" y="3343.2"/>
<use href="#mA" x="1128.1" y="3321.9"/>
<use href="#mA" x="1161" y="3299.4"/>
<use href="#mA" x="1194" y="3272.4"/>
<use href="#mA" x="1227" y="3242.1"/>
<use href="#mA" x="1260" y="3207.4"/>
<use href="#mA" x="1292.9" y="3169.2"/>
<use href="#mA" x="1325.9" y="3128.8"/>
<use href="#mA" x="1358.9" y="3083.9"/>
<use href="#mA" x="1391.8" y="3035.6"/>
<use href="#mA" x="1424.8" y="2986.2"/>
<use href="#mA" x="1457.8" y="2930"/>
<use href="#mA" x="1490.7" y="2870.5"/>
<use href="#mA" x="1523.7" y="2805.8"/>
<use href="#mA" x="1556.7" y="2739.5"/>
<use href="#mA" x="1589.7" y="2669.7"/>
<use href="#mA" x="1622.6" y="2596.6"/>
<use href="#mA" x="1655.6" y="2519.5"/>
<use href="#mA" x="1688.6" y="2438.8"/>
<use href="#mA" x="1721.5" y="2354.1"/>
<use href="#mA" x="1754.5" y="2263.2"/>
<path clip-path="url(#clip2071)" d="M106 2268.9 L139 2356.8 L171.9 2440.4 L204.9 2520.6 L237.9 2597.6 L270.9 2670.6 L303.8 2739.4 L336.8 2805.7 L369.8 2869.8 L402.7 2928.3 L435.7 2983.9 L468.7 3033.8 L501.6 3082.1 L534.6 3127.2 L567.6 3167.8 L600.5 3205 L633.5 3239.2 L666.5 3269.1 L699.5 3295.7 L732.4 3318.1 L765.4 3338.8 L798.4 3354.8 L831.3 3367.3 L864.3 3376 L897.3 3381.2 L930.2 3382.5 L963.2 3381.2 L996.2 3376 L1029.2 3367.3 L1062.1 3354.8 L1095.1 3338.8 L1128.1 3318.1 L1161 3295.8 L1194 3269.2 L1227 3239.4 L1260 3205.3 L1292.9 3168.2 L1325.9 3127.7 L1358.9 3082.8 L1391.8 3034.5 L1424.8 2984.7 L1457.8 2929.2 L1490.7 2870.8 L1523.7 2806.7 L1556.7 2740.5 L1589.7 2671.7 L1622.6 2598.7 L1655.6 2521.7 L1688.6 2441.5 L1721.5 2357.9 L1754.5 2270" fill="none" stroke-width="3.0" stroke="#EDB120"/>
<use href="#mD" x="106" y="2268.9"/>
<use href="#mD" x="139" y="2356.8"/>
<use href="#mD" x="171.9" y="2440.4"/>
<use href="#mD" x="204.9" y="2520.6"/>
<use href="#mD" x="237.9" y="2597.6"/>
<use href="#mD" x="270.9" y="2670.6"/>
<use href="#mD" x="303.8" y="2739.4"/>
<use href="#mD" x="336.8" y="2805.7"/>
<use href="#mD" x="369.8" y="2869.8"/>
<use href="#mD" x="402.7" y="2928.3"/>
<use href="#mD" x="435.7" y="2983.9"/>
<use href="#mD" x="468.7" y="3033.8"/>
<use href="#mD" x="501.6" y="3082.1"/>
<use href="#mD" x="534.6" y="3127.2"/>
<use href="#mD" x="567.6" y="3167.8"/>
<use href="#mD" x="600.5" y="3205"/>
<use href="#mD" x="633.5" y="3239.2"/>
<use href="#mD" x="666.5" y="3269.1"/>
<use href="#mD" x="699.5" y="3295.7"/>
<use href="#mD" x="732.4" y="3318.1"/>
<use href="#mD" x="765.4" y="3338.8"/>
<use href="#mD" x="798.4" y="3354.8"/>
<use href="#mD" x="831.3" y="3367.3"/>
<use href="#mD" x="864.3" y="3376"/>
<use href="#mD" x="897.3" y="3381.2"/>
<use href="#mD" x="930.2" y="3382.5"/>
<use href="#mD" x="963.2" y="3381.2"/>
<use href="#mD" x="996.2" y="3376"/>
<use href="#mD" x="1029.2" y="3367.3"/>
<use href="#mD" x="1062.1" y="3354.8"/>
<use href="#mD" x="1095.1" y="3338.8"/>
<use href="#mD" x="1128.1" y="3318.1"/>
<use href="#mD" x="1161" y="3295.8"/>
<use href="#mD" x="1194" y="3269.2"/>
<use href="#mD" x="1227" y="3239.4"/>
<use href="#mD" x="1260" y="3205.3"/>
<use href="#mD" x="1292.9" y="3168.2"/>
<use href="#mD" x="1325.9" y="3127.7"/>
<use href="#mD" x="1358.9" y="3082.8"/>
<use href="#mD" x="1391.8" y="3034.5"/>
<use href="#mD" x="1424.8" y="2984.7"/>
<use href="#mD" x="1457.8" y="2929.2"/>
<use href="#mD" x="1490.7" y="2870.8"/>
<use href="#mD" x="1523.7" y="2806.7"/>
<use href="#mD" x="1556.7" y="2740.5"/>
<use href="#mD" x="1589.7" y="2671.7"/>
<use href="#mD" x="1622.6" y="2598.7"/>
<use href="#mD" x="1655.6" y="2521.7"/>
<use href="#mD" x="1688.6" y="2441.5"/>
<use href="#mD" x="1721.5" y="2357.9"/>
<use href="#mD" x="1754.5" y="2270"/>
<path clip-path="url(#clip2071)" d="M106 2340 L139 2420.1 L171.9 2496.2 L204.9 2567.5 L237.9 2637.2 L270.9 2702.6 L303.8 2765.8 L336.8 2825.8 L369.8 2880.6 L402.7 2934.2 L435.7 2984.2 L468.7 3030.9 L501.6 3074.2 L534.6 3114.6 L567.6 3151.9 L600.5 3186 L633.5 3216 L666.5 3243.6 L699.5 3267.2 L732.4 3287.9 L765.4 3305.3 L798.4 3320.3 L831.3 3332.1 L864.3 3340 L897.3 3344.9 L930.2 3346.9 L963.2 3344.9 L996.2 3340 L1029.2 3332.1 L1062.1 3320.3 L1095.1 3305.3 L1128.1 3287.9 L1161 3267.2 L1194 3243.6 L1227 3216.1 L1260 3186.3 L1292.9 3152.5 L1325.9 3115.4 L1358.9 3075.3 L1391.8 3032.4 L1424.8 2986.1 L1457.8 2936.3 L1490.7 2883 L1523.7 2828.4 L1556.7 2768.6 L1589.7 2705.4 L1622.6 2640 L1655.6 2570.3 L1688.6 2499 L1721.5 2422.9 L1754.5 2342.8" fill="none" stroke-width="3.0" stroke="#7E2F8E"/>
<use href="#mC" x="106" y="2340"/>
<use href="#mC" x="139" y="2420.1"/>
<use href="#mC" x="171.9" y="2496.2"/>
<use href="#mC" x="204.9" y="2567.5"/>
<use href="#mC" x="237.9" y="2637.2"/>
<use href="#mC" x="270.9" y="2702.6"/>
<use href="#mC" x="303.8" y="2765.8"/>
<use href="#mC" x="336.8" y="2825.8"/>
<use href="#mC" x="369.8" y="2880.6"/>
<use href="#mC" x="402.7" y="2934.2"/>
<use href="#mC" x="435.7" y="2984.2"/>
<use href="#mC" x="468.7" y="3030.9"/>
<use href="#mC" x="501.6" y="3074.2"/>
<use href="#mC" x="534.6" y="3114.6"/>
<use href="#mC" x="567.6" y="3151.9"/>
<use href="#mC" x="600.5" y="3186"/>
<use href="#mC" x="633.5" y="3216"/>
<use href="#mC" x="666.5" y="3243.6"/>
<use href="#mC" x="699.5" y="3267.2"/>
<use href="#mC" x="732.4" y="3287.9"/>
<use href="#mC" x="765.4" y="3305.3"/>
<use href="#mC" x="798.4" y="3320.3"/>
<use href="#mC" x="831.3" y="3332.1"/>
<use href="#mC" x="864.3" y="3340"/>
<use href="#mC" x="897.3" y="3344.9"/>
<use href="#mC" x="930.2" y="3346.9"/>
<use href="#mC" x="963.2" y="3344.9"/>
<use href="#mC" x="996.2" y="3340"/>
<use href="#mC" x="1029.2" y="3332.1"/>
<use href="#mC" x="1062.1" y="3320.3"/>
<use href="#mC" x="1095.1" y="3305.3"/>
<use href="#mC" x="1128.1" y="3287.9"/>
<use href="#mC" x="1161" y="3267.2"/>
<use href="#mC" x="1194" y="3243.6"/>
<use href="#mC" x="1227" y="3216.1"/>
<use href="#mC" x="1260" y="3186.3"/>
<use href="#mC" x="1292.9" y="3152.5"/>
<use href="#mC" x="1325.9" y="3115.4"/>
<use href="#mC" x="1358.9" y="3075.3"/>
<use href="#mC" x="1391.8" y="3032.4"/>
<use href="#mC" x="1424.8" y="2986.1"/>
<use href="#mC" x="1457.8" y="2936.3"/>
<use href="#mC" x="1490.7" y="2883"/>
<use href="#mC" x="1523.7" y="2828.4"/>
<use href="#mC" x="1556.7" y="2768.6"/>
<use href="#mC" x="1589.7" y="2705.4"/>
<use href="#mC" x="1622.6" y="2640"/>
<use href="#mC" x="1655.6" y="2570.3"/>
<use href="#mC" x="1688.6" y="2499"/>
<use href="#mC" x="1721.5" y="2422.9"/>
<use href="#mC" x="1754.5" y="2342.8"/>
<path clip-path="url(#clip2071)" d="M106 2356.8 L139 2434 L171.9 2507.7 L204.9 2578 L237.9 2647.4 L270.9 2711.1 L303.8 2772.3 L336.8 2833.6 L369.8 2883.3 L402.7 2936.9 L435.7 2983.1 L468.7 3028.4 L501.6 3070.6 L534.6 3113.5 L567.6 3149.8 L600.5 3182.9 L633.5 3212.8 L666.5 3239.5 L699.5 3263 L732.4 3283.9 L765.4 3301 L798.4 3314.9 L831.3 3325.8 L864.3 3333.8 L897.3 3338.7 L930.2 3340.3 L963.2 3338.7 L996.2 3333.8 L1029.2 3325.8 L1062.1 3314.9 L1095.1 3301 L1128.1 3283.9 L1161 3263 L1194 3239.5 L1227 3212.8 L1260 3182.9 L1292.9 3149.8 L1325.9 3113.7 L1358.9 3071 L1391.8 3029.3 L1424.8 2984.6 L1457.8 2939.1 L1490.7 2886.2 L1523.7 2837.1 L1556.7 2776.5 L1589.7 2715.7 L1622.6 2652.4 L1655.6 2583.1 L1688.6 2512.7 L1721.5 2439 L1754.5 2361.8" fill="none" stroke-width="3.0" stroke="#77AC30"/>
<use href="#mH" x="106" y="2356.8"/>
<use href="#mH" x="139" y="2434"/>
<use href="#mH" x="171.9" y="2507.7"/>
<use href="#mH" x="204.9" y="2578"/>
<use href="#mH" x="237.9" y="2647.4"/>
<use href="#mH" x="270.9" y="2711.1"/>
<use href="#mH" x="303.8" y="2772.3"/>
<use href="#mH" x="336.8" y="2833.6"/>
<use href="#mH" x="369.8" y="2883.3"/>
<use href="#mH" x="402.7" y="2936.9"/>
<use href="#mH" x="435.7" y="2983.1"/>
<use href="#mH" x="468.7" y="3028.4"/>
<use href="#mH" x="501.6" y="3070.6"/>
<use href="#mH" x="534.6" y="3113.5"/>
<use href="#mH" x="567.6" y="3149.8"/>
<use href="#mH" x="600.5" y="3182.9"/>
<use href="#mH" x="633.5" y="3212.8"/>
<use href="#mH" x="666.5" y="3239.5"/>
<use href="#mH" x="699.5" y="3263"/>
<use href="#mH" x="732.4" y="3283.9"/>
<use href="#mH" x="765.4" y="3301"/>
<use href="#mH" x="798.4" y="3314.9"/>
<use href="#mH" x="831.3" y="3325.8"/>
<use href="#mH" x="864.3" y="3333.8"/>
<use href="#mH" x="897.3" y="3338.7"/>
<use href="#mH" x="930.2" y="3340.3"/>
<use href="#mH" x="963.2" y="3338.7"/>
<use href="#mH" x="996.2" y="3333.8"/>
<use href="#mH" x="1029.2" y="3325.8"/>
<use href="#mH" x="1062.1" y="3314.9"/>
<use href="#mH" x="1095.1" y="3301"/>
<use href="#mH" x="1128.1" y="3283.9"/>
<use href="#mH" x="1161" y="3263"/>
<use href="#mH" x="1194" y="3239.5"/>
<use href="#mH" x="1227" y="3212.8"/>
<use href="#mH" x="1260" y="3182.9"/>
<use href="#mH" x="1292.9" y="3149.8"/>
<use href="#mH" x="1325.9" y="3113.7"/>
<use href="#mH" x="1358.9" y="3071"/>
<use href="#mH" x="1391.8" y="3029.3"/>
<use href="#mH" x="1424.8" y="2984.6"/>
<use href="#mH" x="1457.8" y="2939.1"/>
<use href="#mH" x="1490.7" y="2886.2"/>
<use href="#mH" x="1523.7" y="2837.1"/>
<use href="#mH" x="1556.7" y="2776.5"/>
<use href="#mH" x="1589.7" y="2715.7"/>
<use href="#mH" x="1622.6" y="2652.4"/>
<use href="#mH" x="1655.6" y="2583.1"/>
<use href="#mH" x="1688.6" y="2512.7"/>
<use href="#mH" x="1721.5" y="2439"/>
<use href="#mH" x="1754.5" y="2361.8"/>
</g>
<g font-family="Liberation Sans, Arial, Helvetica, sans-serif" font-size="53.6" fill="#262626"><text transform="translate(104.5 3498.6) scale(0.9 1)" text-anchor="middle">0</text><text transform="translate(269.4 3498.6) scale(0.9 1)" text-anchor="middle">0.1</text><text transform="translate(434.2 3498.6) scale(0.9 1)" text-anchor="middle">0.2</text><text transform="translate(599 3498.6) scale(0.9 1)" text-anchor="middle">0.3</text><text transform="translate(763.9 3498.6) scale(0.9 1)" text-anchor="middle">0.4</text><text transform="translate(928.8 3498.6) scale(0.9 1)" text-anchor="middle">0.5</text><text transform="translate(1093.6 3498.6) scale(0.9 1)" text-anchor="middle">0.6</text><text transform="translate(1258.4 3498.6) scale(0.9 1)" text-anchor="middle">0.7</text><text transform="translate(1423.3 3498.6) scale(0.9 1)" text-anchor="middle">0.8</text><text transform="translate(1588.2 3498.6) scale(0.9 1)" text-anchor="middle">0.9</text><text transform="translate(1753 3498.6) scale(0.9 1)" text-anchor="middle">1</text><text transform="translate(83.4 3443.8) scale(0.9 1)" text-anchor="end">0</text><text transform="translate(83.4 3218.7) scale(0.9 1)" text-anchor="end">0.2</text><text transform="translate(83.4 2993.6) scale(0.9 1)" text-anchor="end">0.4</text><text transform="translate(83.4 2768.5) scale(0.9 1)" text-anchor="end">0.6</text><text transform="translate(83.4 2543.5) scale(0.9 1)" text-anchor="end">0.8</text><text transform="translate(83.4 2318.4) scale(0.9 1)" text-anchor="end">1</text><text transform="translate(83.4 2093.3) scale(0.9 1)" text-anchor="end">1.2</text></g>
<text transform="translate(891 1884.9) scale(0.95 1)" text-anchor="middle" font-family="Liberation Serif, Times New Roman, serif" font-size="78" fill="#000">(<tspan font-weight="bold">b</tspan>)</text>
<g font-family="Liberation Sans, Arial, sans-serif" font-size="47.8" fill="#000"><rect x="957" y="2130.6" width="357" height="339" fill="#fff" stroke="#262626" stroke-width="3.6"/><g shape-rendering="crispEdges"><path d="M971 2170.1 H1124" stroke="#0072BD" stroke-width="3"/></g><g shape-rendering="crispEdges"><path d="M971 2235.1 H1124" stroke="#D95319" stroke-width="3"/><use href="#mA" x="1048" y="2235.1"/></g><g shape-rendering="crispEdges"><path d="M971 2300.1 H1124" stroke="#EDB120" stroke-width="3"/><use href="#mD" x="1048" y="2300.1"/></g><g shape-rendering="crispEdges"><path d="M971 2365.1 H1124" stroke="#7E2F8E" stroke-width="3"/><use href="#mC" x="1048" y="2365.1"/></g><g shape-rendering="crispEdges"><path d="M971 2430.1 H1124" stroke="#77AC30" stroke-width="3"/><use href="#mH" x="1048" y="2430.1"/></g><text transform="translate(1135 2190.9) scale(0.95 1)">exact</text><text transform="translate(1135.6 2258.1) scale(0.86 1)" font-family="DejaVu Serif, serif" font-style="italic" font-size="40" stroke="#000" stroke-width="0.9">ϵ</text><text transform="translate(1154 2258.1) scale(0.935 0.75)">=</text><text transform="translate(1181.1 2257.1) scale(0.935 1)">0</text><text transform="translate(1135.6 2320.6) scale(0.86 1)" font-family="DejaVu Serif, serif" font-style="italic" font-size="40" stroke="#000" stroke-width="0.9">ϵ</text><text transform="translate(1154 2320.6) scale(0.935 0.75)">=</text><text transform="translate(1181.1 2319.6) scale(0.935 1)">0.001</text><text transform="translate(1135.6 2387.9) scale(0.86 1)" font-family="DejaVu Serif, serif" font-style="italic" font-size="40" stroke="#000" stroke-width="0.9">ϵ</text><text transform="translate(1154 2387.9) scale(0.935 0.75)">=</text><text transform="translate(1181.1 2386.9) scale(0.935 1)">0.005</text><text transform="translate(1135.6 2450.8) scale(0.86 1)" font-family="DejaVu Serif, serif" font-style="italic" font-size="40" stroke="#000" stroke-width="0.9">ϵ</text><text transform="translate(1154 2450.8) scale(0.935 0.75)">=</text><text transform="translate(1181.1 2449.8) scale(0.935 1)">0.01</text></g>
</svg>
</body></html>
